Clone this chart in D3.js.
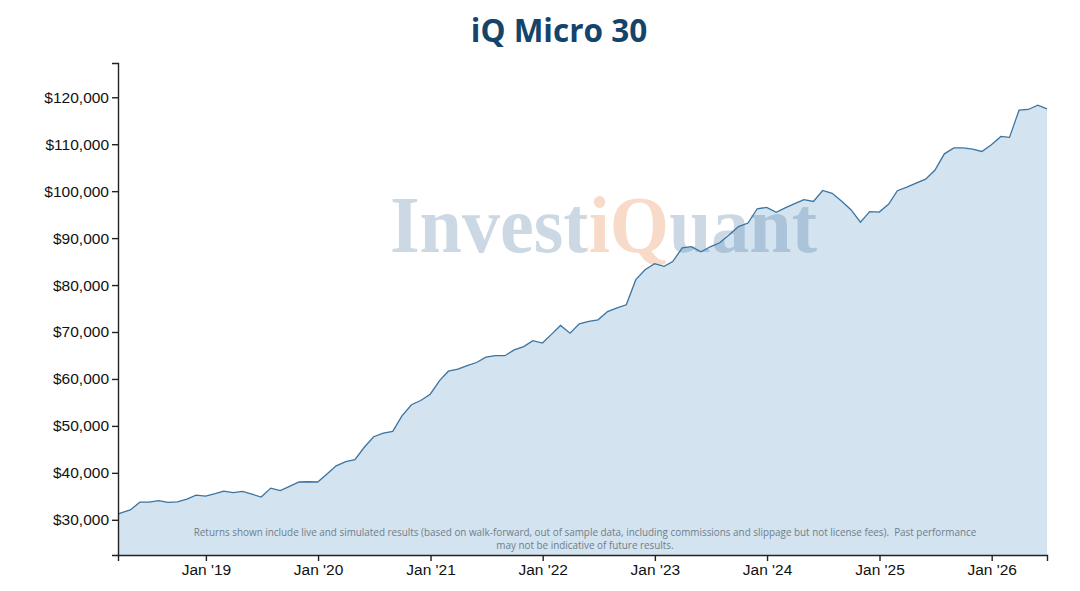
<!DOCTYPE html>
<html>
<head>
<meta charset="utf-8">
<script src="https://cdn.jsdelivr.net/npm/d3@7"></script>
<style>
    body { margin: 0; background: white; }
</style>
</head>
<body>
<script>
const chartTitle = "iQ Micro 30";
const footnote = [
    "Returns shown include live and simulated results (based on walk-forward, out of sample data, including commissions and slippage but not license fees).  Past performance",
    "may not be indicative of future results."
];
const watermark = "InvestiQuant";

// first point is the start of the record, the rest are month ends Mar '18 .. Jun '26
const startDate = new Date(2018, 2, 21);
const monthEnds = d3.timeMonth.range(new Date(2018, 3, 1), new Date(2026, 6, 2))
    .map(d => d3.timeDay.offset(d, -1));
const dates = [startDate, ...monthEnds];

const values = [
    31200,
    31450, 32100, 33750, 33750, 34100, 33700, 33800, 34400, 35250, 35050,
    35550, 36100, 35800, 36050, 35450, 34850, 36750, 36200, 37100, 38050, 38100, 38050,
    39800, 41500, 42400, 42800, 45500, 47700, 48450, 48850, 52150, 54500, 55400, 56750,
    59700, 61650, 62100, 62850, 63500, 64650, 64950, 64950, 66200, 66900, 68150, 67650,
    69600, 71400, 69750, 71750, 72250, 72600, 74350, 75150, 75800, 81150, 83250, 84550,
    84000, 85000, 87900, 88200, 87100, 88150, 89000, 90700, 92450, 93200, 96250, 96550,
    95500, 96450, 97350, 98200, 97800, 100150, 99550, 97850, 96050, 93400, 95650, 95550,
    97250, 100100, 100850, 101700, 102550, 104450, 107950, 109200, 109200, 108950, 108450, 109900,
    111650, 111450, 117250, 117400, 118300, 117550
];

const yDomain = [22500, 127300];

const width = 1080, height = 591;
const margin = { top: 63, right: 33, bottom: 36, left: 118 };

const svg = d3.select("body")
    .append("svg")
    .attr("width", width)
    .attr("height", height);

const data = dates.map((d, i) => ({ date: d, value: values[i] }));

const x = d3.scaleTime()
    .domain(d3.extent(dates))
    .range([margin.left, width - margin.right]);

const y = d3.scaleLinear()
    .domain(yDomain)
    .range([height - margin.bottom, margin.top]);

const area = d3.area()
    .x(d => x(d.date))
    .y0(y(yDomain[0]))
    .y1(d => y(d.value));

const line = d3.line()
    .x(d => x(d.date))
    .y(d => y(d.value));

svg.append("path")
    .attr("d", area(data))
    .attr("fill", "#d3e3f0");

// watermark: one text, coloured blue / orange / blue with a hard-stop gradient
const markX = 390, markLen = 427;
const grad = svg.append("defs")
    .append("linearGradient")
    .attr("id", "markFill")
    .attr("gradientUnits", "userSpaceOnUse")
    .attr("x1", markX)
    .attr("x2", markX + markLen)
    .attr("y1", 0)
    .attr("y2", 0);
const cut1 = (586 - markX) / markLen, cut2 = (671 - markX) / markLen;
[
    [0, "#2f6690", 0.25], [cut1, "#2f6690", 0.25],
    [cut1, "#e8844a", 0.3], [cut2, "#e8844a", 0.3],
    [cut2, "#2f6690", 0.25], [1, "#2f6690", 0.25]
].forEach(s => {
    grad.append("stop")
        .attr("offset", s[0])
        .attr("stop-color", s[1])
        .attr("stop-opacity", s[2]);
});

svg.append("text")
    .attr("x", markX)
    .attr("y", 252)
    .attr("textLength", markLen)
    .attr("lengthAdjust", "spacingAndGlyphs")
    .attr("font-family", "'Liberation Serif', serif")
    .attr("font-weight", "bold")
    .attr("font-size", "80px")
    .attr("fill", "url(#markFill)")
    .text(watermark);

svg.append("path")
    .attr("d", line(data))
    .attr("fill", "none")
    .attr("stroke", "#3a74a3")
    .attr("stroke-width", 1.3);

svg.selectAll(".note")
    .data(footnote)
    .join("text")
    .attr("class", "note")
    .attr("x", 585)
    .attr("y", (d, i) => 536 + i * 13)
    .attr("text-anchor", "middle")
    .attr("font-family", "'Open Sans', sans-serif")
    .attr("font-size", "9.9px")
    .attr("fill", "#707e8b")
    .style("white-space", "pre")
    .text(d => d);

const xAxis = svg.append("g")
    .attr("transform", `translate(0,${height - margin.bottom})`)
    .call(d3.axisBottom(x)
        .ticks(d3.timeYear.every(1))
        .tickFormat(d3.timeFormat("%b '%y")));

const yAxis = svg.append("g")
    .attr("transform", `translate(${margin.left},0)`)
    .call(d3.axisLeft(y)
        .tickValues(d3.range(30000, 120001, 10000))
        .tickFormat(d => "$" + d3.format(",")(d)));

[xAxis, yAxis].forEach(g => {
    g.selectAll("path, line").attr("stroke", "#222").attr("stroke-width", 1.4);
    g.selectAll("text")
        .attr("font-family", "'Liberation Sans', Arial, sans-serif")
        .attr("font-size", "15.5px")
        .attr("fill", "#111");
});

svg.append("text")
    .attr("x", 559)
    .attr("y", 42)
    .attr("text-anchor", "middle")
    .attr("font-family", "'Open Sans', sans-serif")
    .attr("font-weight", "bold")
    .attr("font-size", "31.5px")
    .attr("fill", "#15446b")
    .text(chartTitle);
</script>
</body>
</html>
